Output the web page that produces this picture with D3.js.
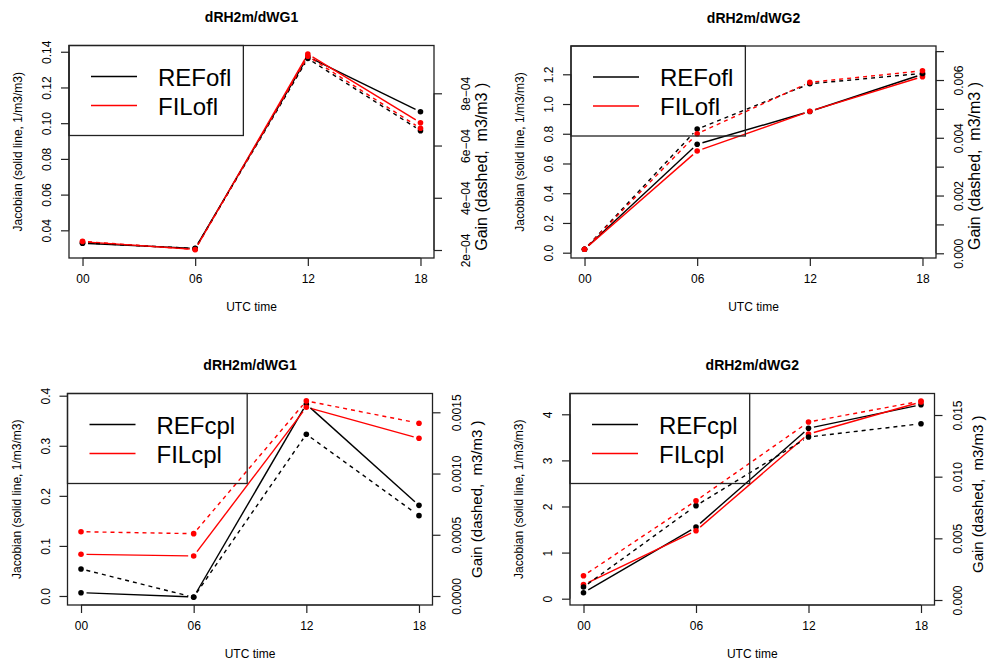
<!DOCTYPE html>
<html><head><meta charset="utf-8">
<script src="https://cdn.jsdelivr.net/npm/d3@7"></script>
<style>
body{margin:0;background:#fff}
svg{display:block}
text{font-family:"Liberation Sans",Arial,Helvetica,sans-serif;fill:#000}
</style>
</head><body><svg id="c" width="988" height="663"></svg>
<script>
// ---------- data ----------
const hours = [0, 6, 12, 18];
const timeLabels = ["00", "06", "12", "18"];
const panelTitles = ["dRH2m/dWG1", "dRH2m/dWG2", "dRH2m/dWG1", "dRH2m/dWG2"];
const refLabels = ["REFofl", "REFofl", "REFcpl", "REFcpl"];
const filLabels = ["FILofl", "FILofl", "FILcpl", "FILcpl"];

const refJacobian = [
  [0.0328, 0.0299, 0.1372, 0.1064],
  [0.023, 0.729, 0.950, 1.200],
  [0.0066, -0.002, 0.383, 0.181],
  [0.130, 1.555, 3.696, 4.208]
];
const filJacobian = [
  [0.0336, 0.0293, 0.1387, 0.1002],
  [0.023, 0.684, 0.951, 1.184],
  [0.0833, 0.0799, 0.377, 0.315],
  [0.304, 1.475, 3.573, 4.267]
];
const refGain = [
  [2.27e-4, 2.06e-4, 9.33e-4, 6.57e-4],
  [0.000138, 0.0043, 0.00587, 0.00623],
  [0.000221, -0.00001, 0.001321, 0.000656],
  [0.00105, 0.00765, 0.01322, 0.01429]
];
const filGain = [
  [2.33e-4, 2.02e-4, 9.42e-4, 6.66e-4],
  [0.000138, 0.00414, 0.00592, 0.00632],
  [0.000525, 0.000509, 0.001593, 0.001411],
  [0.00197, 0.00805, 0.01443, 0.01613]
];

const jacTicks = [
  [0.04, 0.06, 0.08, 0.10, 0.12, 0.14],
  [0, 0.2, 0.4, 0.6, 0.8, 1.0, 1.2],
  [0, 0.1, 0.2, 0.3, 0.4],
  [0, 1, 2, 3, 4]
];
const jacTickLabels = [
  ["0.04", "0.06", "0.08", "0.10", "0.12", "0.14"],
  ["0.0", "0.2", "0.4", "0.6", "0.8", "1.0", "1.2"],
  ["0.0", "0.1", "0.2", "0.3", "0.4"],
  ["0", "1", "2", "3", "4"]
];
const gainTicks = [
  [2e-4, 4e-4, 6e-4, 8e-4],
  [0, 0.001, 0.002, 0.003, 0.004, 0.005, 0.006, 0.007],
  [0, 0.0005, 0.0010, 0.0015],
  [0, 0.005, 0.010, 0.015]
];
const gainTickLabels = [
  ["2e\u221204", "4e\u221204", "6e\u221204", "8e\u221204"],
  ["0.000", "", "0.002", "", "0.004", "", "0.006", ""],
  ["0.0000", "0.0005", "0.0010", "0.0015"],
  ["0.000", "0.005", "0.010", "0.015"]
];
const jacLimits = [[0.0245, 0.1435], [-0.0357, 1.3903], [-0.018, 0.4044], [-0.137, 4.451]];
const gainLimits = [[1.694e-4, 9.83e-4], [-0.000163, 0.007178], [-7.35e-5, 0.0016535], [-0.000405, 0.016744]];

const leftTitle = "Jacobian (solid line, 1/m3/m3)";
const rightTitle = "Gain (dashed,  m3/m3 )";
const xTitle = "UTC time";

// ---------- layout ----------
const boxes = [
  {x0: 69, x1: 434, y0: 45.5, y1: 258, rlab: 32, rtitle: 47, rdy: 15, rfs: 16},
  {x0: 571, x1: 936, y0: 46, y1: 258, rlab: 23, rtitle: 38, rdy: 14, rfs: 16},
  {x0: 67.5, x1: 432.5, y0: 393.5, y1: 605, rlab: 24, rtitle: 44, rdy: 0, rfs: 15},
  {x0: 570, x1: 934.5, y0: 393.5, y1: 605, rlab: 23, rtitle: 43, rdy: -5, rfs: 15}
];
const RED = "#ff0000", BLACK = "#000000";
const svg = d3.select("#c");

function drawTypeB(g, xs, ys, vals, color, dashed) {
  const pts = hours.map((h, i) => [xs(h), ys(vals[i])]);
  const gap = 5.5;
  for (let i = 0; i < pts.length - 1; i++) {
    const [ax, ay] = pts[i], [bx, by] = pts[i + 1];
    const dx = bx - ax, dy = by - ay, L = Math.hypot(dx, dy);
    if (L <= 2 * gap) continue;
    const ux = dx / L, uy = dy / L;
    g.append("line")
      .attr("x1", ax + ux * gap).attr("y1", ay + uy * gap)
      .attr("x2", bx - ux * gap).attr("y2", by - uy * gap)
      .attr("stroke", color).attr("stroke-width", 1.4)
      .attr("stroke-dasharray", dashed ? "4,4" : null);
  }
  g.selectAll(null).data(pts).enter().append("circle")
    .attr("cx", d => d[0]).attr("cy", d => d[1]).attr("r", 2.8)
    .attr("fill", color);
}

boxes.forEach((b, p) => {
  const g = svg.append("g");
  const xExt = 18 * 0.04;
  const x = d3.scaleLinear().domain([hours[0] - xExt, hours[3] + xExt]).range([b.x0, b.x1]);
  const yJ = d3.scaleLinear().domain(jacLimits[p]).range([b.y1, b.y0]);
  const yG = d3.scaleLinear().domain(gainLimits[p]).range([b.y1, b.y0]);

  // series
  drawTypeB(g, x, yJ, refJacobian[p], BLACK, false);
  drawTypeB(g, x, yJ, filJacobian[p], RED, false);
  drawTypeB(g, x, yG, refGain[p], BLACK, true);
  drawTypeB(g, x, yG, filGain[p], RED, true);

  // box
  g.append("rect").attr("x", b.x0).attr("y", b.y0)
    .attr("width", b.x1 - b.x0).attr("height", b.y1 - b.y0)
    .attr("fill", "none").attr("stroke", "#222").attr("stroke-width", 1.3);

  // bottom axis
  const ax = g.append("g").attr("transform", `translate(0,${b.y1})`)
    .call(d3.axisBottom(x).tickValues(hours).tickFormat((d, i) => timeLabels[i]).tickSize(8).tickPadding(6));
  ax.select(".domain").attr("stroke", "#222").attr("d", `M${x(hours[0])},0H${x(hours[3])}`);
  ax.selectAll(".tick line").attr("stroke", "#222").attr("stroke-width", 1.2);
  ax.selectAll(".tick text").attr("font-size", 12).attr("font-family", null).attr("dy", "0.9em");

  // left axis
  const al = g.append("g").attr("transform", `translate(${b.x0},0)`)
    .call(d3.axisLeft(yJ).tickValues(jacTicks[p]).tickFormat((d, i) => jacTickLabels[p][i]).tickSize(8));
  al.select(".domain").attr("stroke", "#222")
    .attr("d", `M0,${yJ(jacTicks[p][0])}V${yJ(jacTicks[p][jacTicks[p].length - 1])}`);
  al.selectAll(".tick line").attr("stroke", "#222").attr("stroke-width", 1.2);
  al.selectAll(".tick text").attr("font-size", 12).attr("font-family", null)
    .attr("x", null).attr("dy", null).attr("text-anchor", "middle")
    .attr("transform", "translate(-22,0) rotate(-90)").attr("y", "0.36em");

  // right axis
  const ar = g.append("g").attr("transform", `translate(${b.x1},0)`)
    .call(d3.axisRight(yG).tickValues(gainTicks[p]).tickFormat((d, i) => gainTickLabels[p][i]).tickSize(8));
  ar.select(".domain").attr("stroke", "#222")
    .attr("d", `M0,${yG(gainTicks[p][0])}V${yG(gainTicks[p][gainTicks[p].length - 1])}`);
  ar.selectAll(".tick line").attr("stroke", "#222").attr("stroke-width", 1.2);
  ar.selectAll(".tick text").attr("font-size", 12).attr("font-family", null)
    .attr("x", null).attr("dy", null).attr("text-anchor", "middle")
    .attr("transform", `translate(${b.rlab},0) rotate(-90)`).attr("y", "0.36em");

  // titles
  const cx = (b.x0 + b.x1) / 2, cy = (b.y0 + b.y1) / 2;
  g.append("text").attr("x", cx).attr("y", b.y0 - 28.5).attr("dy", "0.36em")
    .attr("text-anchor", "middle").attr("font-size", 14).attr("font-weight", "bold")
    .text(panelTitles[p]);
  g.append("text").attr("x", cx).attr("y", b.y1 + 49).attr("dy", "0.36em")
    .attr("text-anchor", "middle").attr("font-size", 12).text(xTitle);
  g.append("text").attr("transform", `translate(${b.x0 - 51},${cy}) rotate(-90)`)
    .attr("dy", "0.36em").attr("text-anchor", "middle").attr("font-size", 12).text(leftTitle);
  g.append("text").attr("transform", `translate(${b.x1 + b.rtitle},${cy + b.rdy}) rotate(-90)`)
    .attr("dy", "0.36em").attr("text-anchor", "middle").attr("font-size", b.rfs)
    .style("white-space", "pre").text(rightTitle);

  // legend
  const lg = g.append("g");
  const rows = [[refLabels[p], BLACK], [filLabels[p], RED]];
  let maxW = 0;
  rows.forEach((r, i) => {
    const ry = b.y0 + 31 + i * 29;
    lg.append("line").attr("x1", b.x0 + 22).attr("x2", b.x0 + 68)
      .attr("y1", ry).attr("y2", ry).attr("stroke", r[1]).attr("stroke-width", 1.4);
    const t = lg.append("text").attr("x", b.x0 + 89).attr("y", ry + 9)
      .attr("font-size", 24).text(r[0]);
    maxW = Math.max(maxW, t.node().getComputedTextLength());
  });
  lg.insert("rect", ":first-child").attr("x", b.x0).attr("y", b.y0)
    .attr("width", 89 + maxW + 12).attr("height", 90)
    .attr("fill", "none").attr("stroke", "#222").attr("stroke-width", 1.3);
});
</script>
</body></html>
